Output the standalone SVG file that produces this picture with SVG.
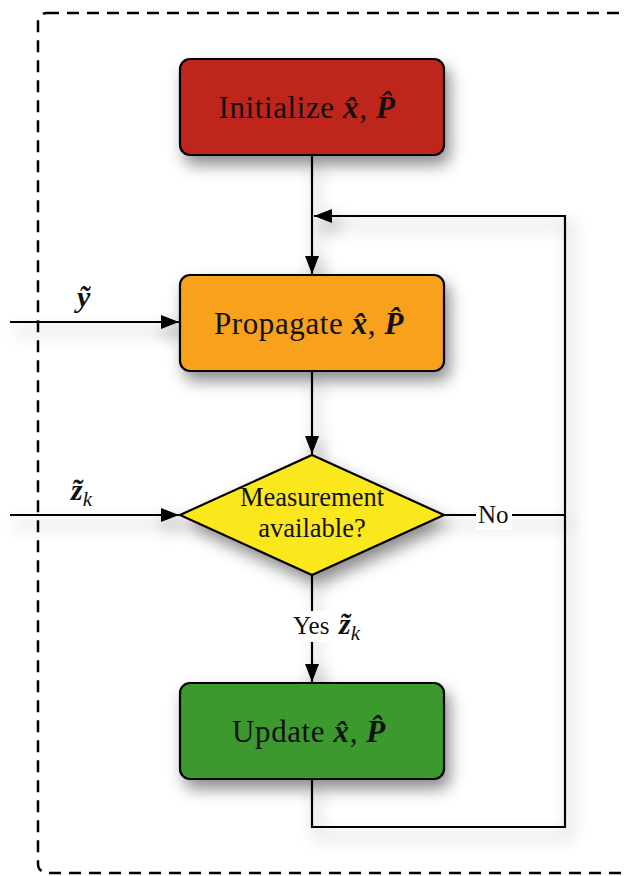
<svg xmlns="http://www.w3.org/2000/svg" width="626" height="876" viewBox="0 0 626 876">
<defs>
<filter id="sh" x="-20%" y="-20%" width="150%" height="160%">
<feDropShadow dx="5" dy="9" stdDeviation="8" flood-color="#000" flood-opacity="0.45"/>
</filter>
<marker id="ah" viewBox="0 0 18 14" refX="18" refY="7" markerWidth="18" markerHeight="14" markerUnits="userSpaceOnUse" orient="auto">
<path d="M0,0 L18,7 L0,14 Z" fill="#000"/>
</marker>
<style>
.box{stroke:#000;stroke-width:2.2}
.t{font-family:"Liberation Serif","Times New Roman",serif;fill:#111;text-anchor:middle}
.m{font-weight:bold;font-style:italic}
.c{fill:none;stroke:#000;stroke-width:2.2}
.lbl{font-family:"Liberation Serif","Times New Roman",serif;fill:#111}
</style>
</defs>
<rect width="626" height="876" fill="#fff"/>
<rect x="38" y="13" width="640" height="860" rx="9" fill="none" stroke="#000" stroke-width="2.5" stroke-dasharray="12 8"/>

<g id="connectors" filter="url(#sh)">
<line class="c" x1="312" y1="155" x2="312" y2="274" marker-end="url(#ah)"/>
<polyline class="c" points="312,779 312,827 565,827 565,216 314,216" marker-end="url(#ah)"/>
<line class="c" x1="444" y1="515" x2="565" y2="515"/>
<line class="c" x1="10" y1="322" x2="179" y2="322" marker-end="url(#ah)"/>
<line class="c" x1="10" y1="515" x2="179" y2="515" marker-end="url(#ah)"/>
<line class="c" x1="312" y1="371" x2="312" y2="454" marker-end="url(#ah)"/>
<line class="c" x1="312" y1="575" x2="312" y2="682" marker-end="url(#ah)"/>
</g>

<g id="init" filter="url(#sh)">
<rect class="box" x="180" y="59" width="264" height="96" rx="10" fill="#be251f"/>
</g>
<text class="t" x="307" y="118" style="font-size:31px;letter-spacing:0.6px">Initialize <tspan class="m">x̂</tspan>, <tspan class="m">P̂</tspan></text>

<g id="propagate" filter="url(#sh)">
<rect class="box" x="180" y="275" width="264" height="96" rx="10" fill="#f8a11d"/>
</g>
<text class="t" x="309" y="334" style="font-size:31px;letter-spacing:0.6px">Propagate <tspan class="m">x̂</tspan>, <tspan class="m">P̂</tspan></text>

<g id="decision" filter="url(#sh)">
<polygon class="box" points="312,455 444,515 312,575 180,515" fill="#fbe81c"/>
</g>
<text class="t" x="312" y="506" style="font-size:26.5px">Measurement</text>
<text class="t" x="312" y="537" style="font-size:26.5px">available?</text>

<g id="update" filter="url(#sh)">
<rect class="box" x="180" y="683" width="264" height="96" rx="10" fill="#3a992e"/>
</g>
<text class="t" x="309" y="742" style="font-size:31px;letter-spacing:0.6px">Update <tspan class="m">x̂</tspan>, <tspan class="m">P̂</tspan></text>

<g id="labels">
<text class="lbl m" x="77" y="307" style="font-size:30px">ỹ</text>
<text class="lbl m" x="71" y="500" style="font-size:30px">z̃<tspan style="font-style:italic;font-weight:normal;font-size:21px" dy="6">k</tspan></text>
<rect x="289" y="611" width="42" height="31" fill="#fff"/>
<text class="lbl" x="293" y="634" style="font-size:25px">Yes</text>
<text class="lbl m" x="339" y="634" style="font-size:30px">z̃<tspan style="font-style:italic;font-weight:normal;font-size:21px" dy="6">k</tspan></text>
<rect x="476" y="502" width="36" height="28" fill="#fff"/>
<text class="lbl" x="478" y="523" style="font-size:25px">No</text>
</g>
</svg>
